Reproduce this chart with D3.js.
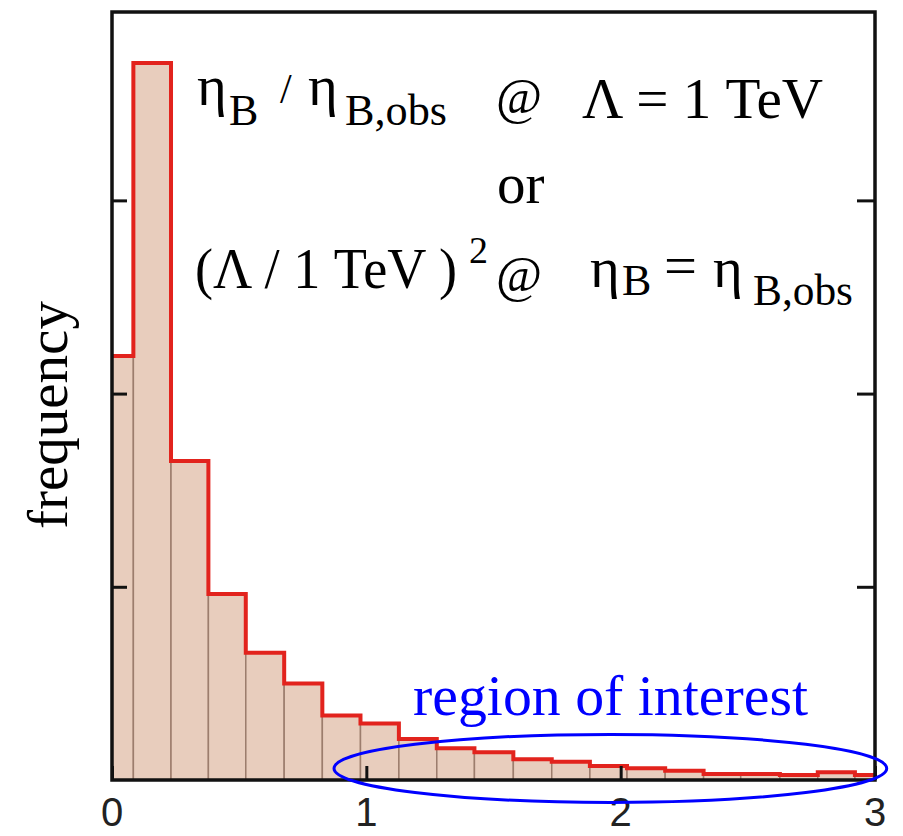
<!DOCTYPE html>
<html>
<head>
<meta charset="utf-8">
<script src="https://cdn.jsdelivr.net/npm/d3@7/dist/d3.min.js"></script>
<style>
    body { margin: 0; background: #ffffff; }
    svg { display: block; }
</style>
</head>
<body>
<div id="chart"></div>
<script>
/*
histogram of eta_B / eta_B,obs with region of interest
 */

//bin edges (x units):
var binEdges = [-0.066, 0.084, 0.232, 0.379, 0.526, 0.677, 0.827, 0.977, 1.128, 1.277, 1.425,
    1.578, 1.729, 1.879, 2.025, 2.175, 2.326, 2.472, 2.626, 2.775, 2.921, 3.07];

//frequency per bin (tick units):
var frequency = [2.195, 3.711, 1.651, 0.963, 0.659, 0.500, 0.334, 0.293, 0.212, 0.164, 0.143,
    0.107, 0.095, 0.072, 0.061, 0.048, 0.031, 0.031, 0.026, 0.040, 0.026];

var xTicks = [0, 1, 2, 3];
var yTicks = [1, 2, 3];

//region of interest (x range, y centre/half height in tick units):
var roiX = [0.873, 3.046];
var roiY = [0.06, 0.176];

var width = 903;
var height = 836;

var plot = d3.select("#chart")
    .append("svg")
    .attr("width", width)
    .attr("height", height);

//scales
var xScale = d3.scaleLinear().domain([0, 3]).range([112, 875]);
var yScale = d3.scaleLinear().domain([0, 3.975]).range([780, 12]);

//clip to frame
plot.append("clipPath")
    .attr("id", "frameClip")
    .append("rect")
    .attr("x", xScale(0))
    .attr("y", yScale(3.975))
    .attr("width", xScale(3) - xScale(0))
    .attr("height", yScale(0) - yScale(3.975));

var panel = plot.append("g").attr("clip-path", "url(#frameClip)");

var bins = frequency.map(function (f, i) {
    return {x0: binEdges[i], x1: binEdges[i + 1], f: f};
});

//bars
panel.selectAll("rect.bar")
    .data(bins)
    .enter()
    .append("rect")
    .attr("class", "bar")
    .attr("x", function (d) { return xScale(d.x0); })
    .attr("y", function (d) { return yScale(d.f); })
    .attr("width", function (d) { return xScale(d.x1) - xScale(d.x0); })
    .attr("height", function (d) { return yScale(0) - yScale(d.f); })
    .attr("fill", "#e8cdbd")
    .attr("stroke", "#9c7d6d")
    .attr("stroke-width", 1.5);

//red step outline
var stepPoints = [];
bins.forEach(function (d) {
    stepPoints.push([d.x0, d.f]);
    stepPoints.push([d.x1, d.f]);
});
stepPoints.push([binEdges[binEdges.length - 1], 0]);

var stepLine = d3.line()
    .x(function (d) { return xScale(d[0]); })
    .y(function (d) { return yScale(d[1]); });

panel.append("path")
    .datum(stepPoints)
    .attr("d", stepLine)
    .attr("fill", "none")
    .attr("stroke", "#e2231d")
    .attr("stroke-width", 4)
    .attr("stroke-linejoin", "miter");

//frame
plot.append("rect")
    .attr("x", xScale(0))
    .attr("y", yScale(3.975))
    .attr("width", xScale(3) - xScale(0))
    .attr("height", yScale(0) - yScale(3.975))
    .attr("fill", "none")
    .attr("stroke", "#111")
    .attr("stroke-width", 3.5);

//ticks, pointing inwards
var yAxisL = d3.axisRight(yScale).tickValues(yTicks).tickSize(15).tickFormat("");
var yAxisR = d3.axisLeft(yScale).tickValues(yTicks).tickSize(18).tickFormat("");
var xAxis = d3.axisTop(xScale).tickValues(xTicks).tickSize(14).tickFormat("");

plot.append("g")
    .attr("transform", "translate(" + xScale(0) + ",0)")
    .call(yAxisL);
plot.append("g")
    .attr("transform", "translate(" + xScale(3) + ",0)")
    .call(yAxisR);
plot.append("g")
    .attr("transform", "translate(0," + yScale(0) + ")")
    .call(xAxis);

plot.selectAll(".domain").remove();
plot.selectAll(".tick line")
    .attr("stroke", "#111")
    .attr("stroke-width", 3);

//x tick labels
plot.selectAll("text.xlab")
    .data(xTicks)
    .enter()
    .append("text")
    .attr("class", "xlab")
    .attr("x", function (d) { return xScale(d); })
    .attr("y", 826)
    .attr("text-anchor", "middle")
    .attr("font-family", "'Liberation Sans', Arial, sans-serif")
    .attr("font-size", "40px")
    .attr("fill", "#222")
    .text(function (d) { return d; });

var serif = "'Liberation Serif', 'Times New Roman', serif";

//y axis name
plot.append("text")
    .attr("transform", "translate(67,415) rotate(-90)")
    .attr("text-anchor", "middle")
    .attr("font-family", serif)
    .attr("font-size", "57px")
    .attr("fill", "#000")
    .text("frequency");

//annotation pieces: [text, x, baseline, size, width]
var notes = [
    ["η", 197, 105, 57, null],
    ["B", 229, 125, 44, null],
    ["/", 280, 103, 42, null],
    ["η", 308, 105, 57, null],
    ["B,obs", 345, 125, 44, 102],
    ["@", 496, 113, 50, null],
    ["Λ = 1 TeV", 582, 118, 57, 241],
    ["or", 497, 203, 57, null],
    ["(Λ / 1 TeV )", 195, 288, 57, 262],
    ["2", 469, 263, 38, null],
    ["@", 496, 291, 50, null],
    ["η", 590, 287, 57, null],
    ["B", 622, 295, 44, null],
    ["=", 664, 285, 57, 33],
    ["η", 713, 287, 57, null],
    ["B,obs", 753, 305, 44, 100]
];

plot.selectAll("text.note")
    .data(notes)
    .enter()
    .append("text")
    .attr("class", "note")
    .attr("x", function (d) { return d[1]; })
    .attr("y", function (d) { return d[2]; })
    .attr("font-family", serif)
    .attr("font-size", function (d) { return d[3] + "px"; })
    .attr("fill", "#000")
    .attr("textLength", function (d) { return d[4]; })
    .attr("lengthAdjust", "spacingAndGlyphs")
    .text(function (d) { return d[0]; });

//region of interest
plot.append("ellipse")
    .attr("cx", (xScale(roiX[0]) + xScale(roiX[1])) / 2)
    .attr("cy", yScale(roiY[0]))
    .attr("rx", (xScale(roiX[1]) - xScale(roiX[0])) / 2)
    .attr("ry", yScale(0) - yScale(roiY[1]))
    .attr("fill", "none")
    .attr("stroke", "#0000ff")
    .attr("stroke-width", 3);

plot.append("text")
    .attr("x", 413)
    .attr("y", 715)
    .attr("font-family", serif)
    .attr("font-size", "57px")
    .attr("fill", "#0000ff")
    .attr("textLength", 395)
    .attr("lengthAdjust", "spacingAndGlyphs")
    .text("region of interest");
</script>
</body>
</html>
